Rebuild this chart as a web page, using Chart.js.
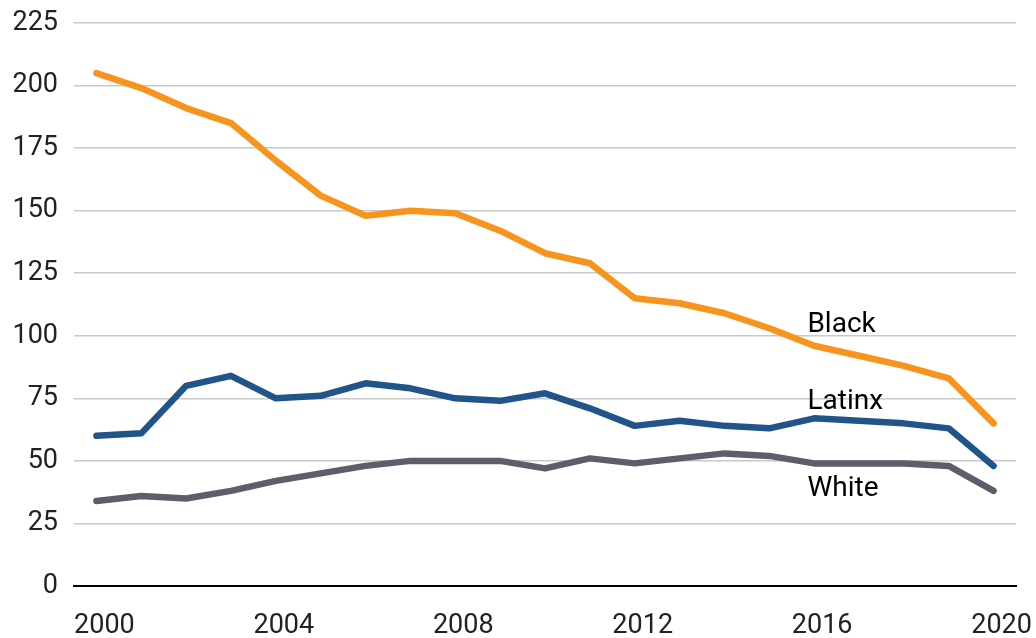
<!DOCTYPE html>
<html>
<head>
<meta charset="utf-8">
<script src="https://cdn.jsdelivr.net/npm/chart.js@4"></script>
<style>
  html, body { margin: 0; padding: 0; background: #fff; }
  canvas { display: block; }
</style>
</head>
<body>
<canvas id="chart" width="1036" height="638"></canvas>
<script>
// years on the x axis
const years = [2000, 2001, 2002, 2003, 2004, 2005, 2006, 2007, 2008, 2009, 2010,
               2011, 2012, 2013, 2014, 2015, 2016, 2017, 2018, 2019, 2020];

// series values
const black  = [205, 199, 191, 185, 170, 156, 148, 150, 149, 142, 133,
                129, 115, 113, 109, 103, 96, 92, 88, 83, 65];
const latinx = [60, 61, 80, 84, 75, 76, 81, 79, 75, 74, 77,
                71, 64, 66, 64, 63, 67, 66, 65, 63, 48];
const white  = [34, 36, 35, 38, 42, 45, 48, 50, 50, 50, 47,
                51, 49, 51, 53, 52, 49, 49, 49, 48, 38];

const yTicks = [0, 25, 50, 75, 100, 125, 150, 175, 200, 225];
const xTickEvery = 4;

// inline series names: [text, x position (category index), y value]
const seriesNames = [
  ['Black', 15.85, 101.6],
  ['Latinx', 15.85, 70.8],
  ['White', 15.85, 36]
];

const FONT = 'Roboto, "Noto Sans", sans-serif';

// draws the series names next to the lines
const seriesLabels = {
  id: 'seriesLabels',
  afterDatasetsDraw(chart) {
    const c = chart.ctx;
    const xs = chart.scales.x, ys = chart.scales.y;
    c.save();
    c.font = '28px ' + FONT;
    c.fillStyle = '#000';
    c.textAlign = 'left';
    c.textBaseline = 'alphabetic';
    seriesNames.forEach(([txt, xi, yv]) => {
      c.fillText(txt, xs.getPixelForValue(xi), ys.getPixelForValue(yv));
    });
    c.restore();
  }
};

const lineStyle = {
  borderWidth: 6.5,
  pointRadius: 0,
  borderCapStyle: 'round',
  borderJoinStyle: 'round',
  tension: 0,
  fill: false
};

new Chart(document.getElementById('chart').getContext('2d'), {
  type: 'line',
  data: {
    labels: years,
    datasets: [
      { label: 'White', data: white, borderColor: '#5c5e6b', ...lineStyle },
      { label: 'Latinx', data: latinx, borderColor: '#215489', ...lineStyle },
      { label: 'Black', data: black, borderColor: '#f7941d', ...lineStyle }
    ]
  },
  options: {
    responsive: false,
    animation: false,
    layout: { padding: { top: 23, right: 20, left: 0, bottom: 0 } },
    plugins: {
      legend: { display: false },
      tooltip: { enabled: false }
    },
    scales: {
      x: {
        type: 'category',
        offset: true,
        grid: { display: false },
        border: { display: true, color: '#000', width: 2 },
        ticks: {
          autoSkip: false,
          maxRotation: 0,
          padding: 16,
          labelOffset: 8,
          color: '#222',
          font: { family: FONT, size: 27 },
          callback: function (v, i) {
            const y = years[i];
            return (y - years[0]) % xTickEvery === 0 ? String(y) : '';
          }
        },
        afterFit: (s) => { s.height = 52; s.paddingLeft = 0; s.paddingRight = 0; }
      },
      y: {
        min: 0,
        max: 225,
        border: { display: false },
        grid: { color: '#c9c9c9', lineWidth: 1.5, drawTicks: false },
        afterBuildTicks: (s) => { s.ticks = yTicks.map(v => ({ value: v })); },
        ticks: {
          padding: 16,
          color: '#222',
          font: { family: FONT, size: 27 }
        },
        afterFit: (s) => { s.width = 74; s.paddingTop = 0; s.paddingBottom = 0; }
      }
    }
  },
  plugins: [seriesLabels]
});
</script>
</body>
</html>
